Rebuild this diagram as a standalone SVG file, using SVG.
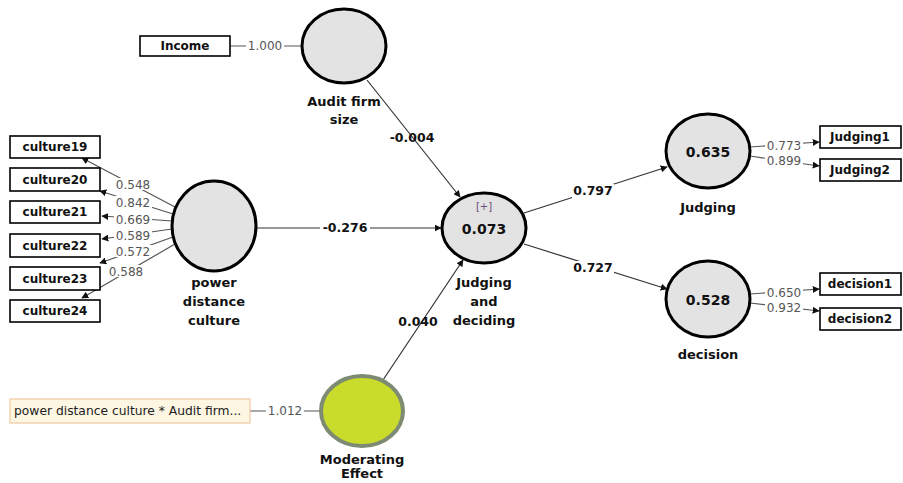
<svg xmlns="http://www.w3.org/2000/svg" width="903" height="483" viewBox="0 0 903 483">
<style>
.lv{fill:#e3e3e3;stroke:#000;stroke-width:3}
.mv{fill:#fff;stroke:#000;stroke-width:1.6}
.t{font-family:"DejaVu Sans",sans-serif;font-weight:bold;font-size:13px;fill:#111;text-anchor:middle}
.b{font-family:"DejaVu Sans",sans-serif;font-weight:bold;font-size:12px;fill:#111;text-anchor:middle}
.v{font-family:"DejaVu Sans",sans-serif;font-weight:bold;font-size:14px;fill:#111;text-anchor:middle}
.g{font-family:"DejaVu Sans",sans-serif;font-size:12px;fill:#555;text-anchor:middle}
.p{font-family:"DejaVu Sans",sans-serif;font-weight:bold;font-size:12.5px;fill:#111;text-anchor:middle}
.c{fill:none;stroke:#555;stroke-width:1.2}
.s{fill:none;stroke:#333;stroke-width:1.2}
.bg{fill:#fff}
</style>
<defs>
<marker id="a" viewBox="0 0 10 10" refX="9" refY="5" markerWidth="7" markerHeight="7" orient="auto" markerUnits="userSpaceOnUse"><path d="M0,0 L10,5 L0,10 z" fill="#111"/></marker>
</defs>
<rect width="903" height="483" fill="#fff"/>
<g id="connectors">
<line class="c" x1="230" y1="46" x2="301" y2="46"/>
<rect class="bg" x="246" y="39" width="38" height="14"/>
<text class="g" x="265" y="50">1.000</text>
<line class="c" x1="250" y1="411" x2="320" y2="411"/>
<rect class="bg" x="266" y="404" width="38" height="14"/>
<text class="g" x="285" y="415">1.012</text>
<line class="s" x1="367" y1="80" x2="460" y2="197" marker-end="url(#a)"/>
<text class="p" x="412" y="142">-0.004</text>
<line class="s" x1="256" y1="228" x2="441" y2="228" marker-end="url(#a)"/>
<rect class="bg" x="320" y="221" width="50" height="14"/>
<text class="p" x="345" y="232">-0.276</text>
<line class="s" x1="383" y1="380" x2="463" y2="260" marker-end="url(#a)"/>
<text class="p" x="418" y="326">0.040</text>
<line class="s" x1="524" y1="213" x2="667" y2="167" marker-end="url(#a)"/>
<rect class="bg" x="572" y="184" width="42" height="14"/>
<text class="p" x="593" y="195">0.797</text>
<line class="s" x1="524" y1="244" x2="667" y2="289" marker-end="url(#a)"/>
<rect class="bg" x="572" y="261" width="42" height="14"/>
<text class="p" x="593" y="272">0.727</text>
<line class="c" x1="175" y1="207" x2="82" y2="158" marker-end="url(#a)"/>
<line class="c" x1="173" y1="214" x2="100" y2="191" marker-end="url(#a)"/>
<line class="c" x1="172" y1="221" x2="102" y2="216" marker-end="url(#a)"/>
<line class="c" x1="172" y1="229" x2="102" y2="239" marker-end="url(#a)"/>
<line class="c" x1="173" y1="237" x2="100" y2="263" marker-end="url(#a)"/>
<line class="c" x1="175" y1="244" x2="82" y2="298" marker-end="url(#a)"/>
<rect class="bg" x="114" y="178" width="38" height="12"/>
<text class="g" x="133" y="189">0.548</text>
<rect class="bg" x="114" y="196" width="38" height="12"/>
<text class="g" x="133" y="207">0.842</text>
<rect class="bg" x="114" y="213" width="38" height="12"/>
<text class="g" x="133" y="224">0.669</text>
<rect class="bg" x="114" y="229" width="38" height="12"/>
<text class="g" x="133" y="240">0.589</text>
<rect class="bg" x="114" y="245" width="38" height="12"/>
<text class="g" x="133" y="256">0.572</text>
<rect class="bg" x="107" y="265" width="38" height="12"/>
<text class="g" x="126" y="276">0.588</text>
<line class="c" x1="750" y1="147" x2="819" y2="142" marker-end="url(#a)"/>
<rect class="bg" x="765" y="139" width="38" height="12"/>
<text class="g" x="784" y="150">0.773</text>
<line class="c" x1="750" y1="156" x2="819" y2="166" marker-end="url(#a)"/>
<rect class="bg" x="765" y="154" width="38" height="12"/>
<text class="g" x="784" y="165">0.899</text>
<line class="c" x1="750" y1="294" x2="819" y2="289" marker-end="url(#a)"/>
<rect class="bg" x="765" y="286" width="38" height="12"/>
<text class="g" x="784" y="297">0.650</text>
<line class="c" x1="750" y1="303" x2="819" y2="311" marker-end="url(#a)"/>
<rect class="bg" x="765" y="301" width="38" height="12"/>
<text class="g" x="784" y="312">0.932</text>
</g>
<g id="income"><rect class="mv" x="140" y="36" width="90" height="20"/><text class="b" x="185" y="50">Income</text></g>
<g id="audit-firm-size"><ellipse class="lv" cx="344" cy="46" rx="42" ry="37"/><text class="t" x="344" y="106">Audit firm</text><text class="t" x="344" y="124">size</text></g>
<g id="culture19"><rect class="mv" x="10" y="136" width="90" height="22"/><text class="b" x="55" y="151">culture19</text></g>
<g id="culture20"><rect class="mv" x="10" y="168" width="90" height="23"/><text class="b" x="55" y="184">culture20</text></g>
<g id="culture21"><rect class="mv" x="10" y="201" width="90" height="22"/><text class="b" x="55" y="216">culture21</text></g>
<g id="culture22"><rect class="mv" x="10" y="234" width="90" height="23"/><text class="b" x="55" y="250">culture22</text></g>
<g id="culture23"><rect class="mv" x="10" y="267" width="90" height="23"/><text class="b" x="55" y="283">culture23</text></g>
<g id="culture24"><rect class="mv" x="10" y="300" width="90" height="22"/><text class="b" x="55" y="315">culture24</text></g>
<g id="power-distance-culture"><ellipse class="lv" cx="214" cy="226" rx="42" ry="45"/><text class="t" x="214" y="287">power</text><text class="t" x="214" y="306">distance</text><text class="t" x="214" y="325">culture</text></g>
<g id="judging-and-deciding"><ellipse class="lv" cx="484" cy="228" rx="42" ry="35"/><text x="484" y="210" style="font-family:'DejaVu Sans',sans-serif;font-size:10px;fill:#6a4c7a;text-anchor:middle">[+]</text><text class="v" x="484" y="234">0.073</text><text class="t" x="484" y="287">Judging</text><text class="t" x="484" y="306">and</text><text class="t" x="484" y="325">deciding</text></g>
<g id="judging"><ellipse class="lv" cx="708" cy="151" rx="42" ry="37"/><text class="v" x="708" y="157">0.635</text><text class="t" x="708" y="212">Judging</text></g>
<g id="decision"><ellipse class="lv" cx="708" cy="299" rx="42" ry="38"/><text class="v" x="708" y="305">0.528</text><text class="t" x="708" y="359">decision</text></g>
<g id="judging1"><rect class="mv" x="820" y="126" width="81" height="22"/><text class="b" x="860" y="141">Judging1</text></g>
<g id="judging2"><rect class="mv" x="820" y="159" width="81" height="22"/><text class="b" x="860" y="174">Judging2</text></g>
<g id="decision1"><rect class="mv" x="820" y="273" width="81" height="22"/><text class="b" x="860" y="288">decision1</text></g>
<g id="decision2"><rect class="mv" x="820" y="308" width="81" height="22"/><text class="b" x="860" y="323">decision2</text></g>
<g id="interaction-indicator"><rect x="10" y="399" width="240" height="24" fill="#fdf6e3" stroke="#f2c9a2" stroke-width="1.2"/><text x="14" y="415" style="font-family:'DejaVu Sans',sans-serif;font-size:12.3px;fill:#222">power distance culture * Audit firm...</text></g>
<g id="moderating-effect"><ellipse cx="362" cy="411" rx="41" ry="35" fill="#c9dc2b" stroke="#7d8b73" stroke-width="4"/><text class="t" x="362" y="464">Moderating</text><text class="t" x="362" y="478">Effect</text></g>
</svg>
